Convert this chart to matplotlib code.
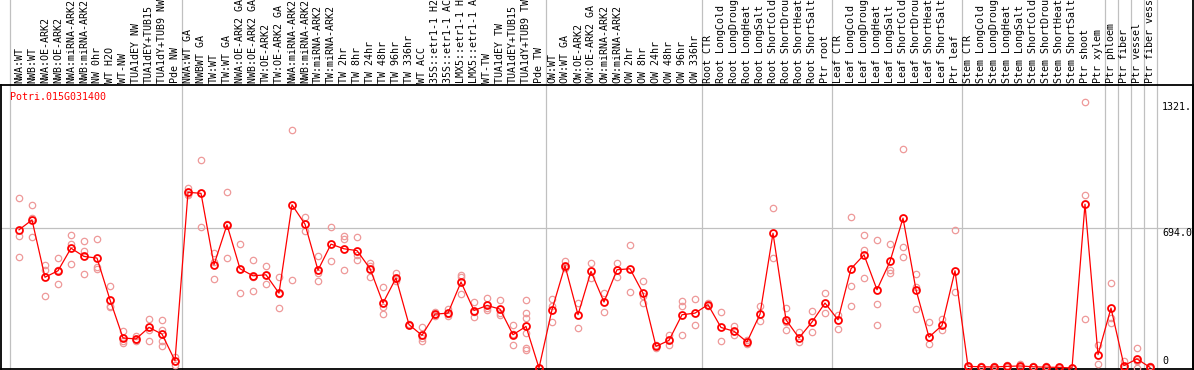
import numpy as np
import matplotlib
matplotlib.use('Agg')
import matplotlib.pyplot as plt
import matplotlib.transforms as mtransforms
from matplotlib.lines import Line2D

gene = 'Potri.015G031400'

labels = ['NWA:WT', 'NWB:WT', 'NWA:OE-ARK2', 'NWB:OE-ARK2', 'NWA:miRNA-ARK2', 'NWB:miRNA-ARK2',
          'NW 0hr', 'WT H2O', 'WT-NW', 'TUA1dEY NW', 'TUA1dEY+TUB15', 'TUA1dY+TUB9 NW', 'Pde NW',
          'NWA:WT GA', 'NWBWT GA', 'TW:WT', 'TW:WT GA', 'NWA:OE-ARK2 GA', 'NWB:OE-ARK2 GA',
          'TW:OE-ARK2', 'TW:OE-ARK2 GA', 'NWA:miRNA-ARK2', 'NWB:miRNA-ARK2', 'TW:miRNA-ARK2',
          'TW:miRNA-ARK2', 'TW 2hr', 'TW 8hr', 'TW 24hr', 'TW 48hr', 'TW 96hr', 'TW 336hr', 'WT ACC',
          '35S::etr1-1 H2', '35S::etr1-1 AC', 'LMX5::etr1-1 H', 'LMX5::etr1-1 A', 'WT-TW',
          'TUA1dEY TW', 'TUA1dEY+TUB15', 'TUA1dY+TUB9 TW', 'Pde TW',
          'OW:WT', 'OW:WT GA', 'OW:OE-ARK2', 'OW:OE-ARK2 GA', 'OW:miRNA-ARK2', 'OW:miRNA-ARK2',
          'OW 2hr', 'OW 8hr', 'OW 24hr', 'OW 48hr', 'OW 96hr', 'OW 336hr',
          'Root CTR', 'Root LongCold', 'Root LongDroug', 'Root LongHeat', 'Root LongSalt',
          'Root ShortCold', 'Root ShortDrou', 'Root ShortHeat', 'Root ShortSalt', 'Ptr root',
          'Leaf CTR', 'Leaf LongCold', 'Leaf LongDroug', 'Leaf LongHeat', 'Leaf LongSalt',
          'Leaf ShortCold', 'Leaf ShortDrou', 'Leaf ShortHeat', 'Leaf ShortSalt', 'Ptr leaf',
          'Stem CTR', 'Stem LongCold', 'Stem LongDroug', 'Stem LongHeat', 'Stem LongSalt',
          'Stem ShortCold', 'Stem ShortDrou', 'Stem ShortHeat', 'Stem ShortSalt', 'Ptr shoot',
          'Ptr xylem', 'Ptr phloem', 'Ptr fiber', 'Ptr vessel', 'Ptr fiber vessel']

means = [685, 734, 450, 482, 594, 553, 545, 338, 149, 144, 201, 168, 36,
         871, 866, 512, 710, 492, 457, 462, 371, 809, 713, 485, 614, 591, 582, 493, 322, 446,
         215, 162, 267, 272, 426, 285, 310, 292, 165, 206, 0,
         289, 507, 264, 479, 327, 487, 492, 371, 107, 137, 264, 272,
         314, 201, 182, 129, 267, 668, 239, 149, 228, 322,
         239, 492, 561, 388, 528, 743, 388, 153, 211, 482,
         8, 6, 5, 8, 10, 6, 4, 3, 0, 812, 66, 297, 12, 45, 3]

reps = [[842, 652, 549], [809, 746, 648], [512, 487, 358], [545, 485, 416], [660, 614, 515],
        [630, 578, 465], [640, 503, 492], [408, 305, 301], [182, 132, 124], [157, 140, 132],
        [244, 190, 135], [238, 190, 132, 107], [53, 36, 17],
        [894, 858, 861], [1031, 698, 869], [569, 526, 441], [871, 714, 545], [614, 491, 371],
        [536, 452, 383], [507, 463, 416], [449, 367, 297], [1180, 437], [751, 677],
        [553, 473, 429], [698, 531], [652, 640, 487], [648, 561, 536], [523, 506, 450],
        [403, 300, 267], [470, 439, 429], [220, 212, 213], [201, 149, 135], [280, 265, 256],
        [290, 270, 256], [462, 449, 368], [327, 277, 251], [347, 297, 286], [338, 274, 264],
        [211, 168, 116], [338, 272, 248, 173, 99, 91], [0, 0, 0],
        [343, 305, 228], [528, 498, 495], [322, 198], [520, 446], [371, 276], [520, 449],
        [611, 376], [432, 355, 322], [116, 99], [165, 116], [330, 305, 165], [343, 211],
        [322, 305], [280, 132], [206, 165], [140, 119], [309, 231], [792, 545],
        [297, 228, 190], [178, 129], [284, 178], [371, 272],
        [264, 193], [747, 408, 309], [660, 586, 446], [635, 318, 211], [614, 487, 470],
        [1084, 599, 549], [465, 404, 294], [228, 119], [244, 190], [685, 376],
        [12, 5, 8], [10, 3, 5], [8, 2, 5], [15, 4, 6], [18, 6, 8], [10, 3, 5], [8, 2, 3],
        [6, 1, 2], [0, 0], [1321, 858, 243], [116, 20], [421, 248, 223], [36, 0],
        [99, 0, 36], [12, 0]]

# group separators (after these indices)
group_ends = [12, 40, 52, 62, 72, 83, 84, 85, 86, 87]

W, H = 1194, 370
fig = plt.figure(figsize=(W / 100, H / 100), dpi=100)
top_px, bot_px = 85, 369
ax = fig.add_axes([0.5 / W, (H - bot_px) / H, 1192.5 / W, (bot_px - top_px) / H])

x = np.arange(len(labels))
mono = 'DejaVu Sans Mono'
fsize = 7.2
gray = '#c0c0c0'

for i, r in enumerate(reps):
    ax.plot([i] * len(r), r, linestyle='none', marker='o', markersize=4.6,
            markerfacecolor='none', markeredgecolor='#ee9999', markeredgewidth=0.9, zorder=3)
ax.plot(x, means, color='red', linewidth=0.9, zorder=4)
ax.plot(x, means, linestyle='none', marker='o', markersize=5,
        markerfacecolor='none', markeredgecolor='red', markeredgewidth=1.3, zorder=5)

ax.set_xlim((0.5 - 19) / 13, (1193 - 19) / 13)
ax.set_ylim(-5, 1403)
ax.set_xticks([])
ax.set_yticks([])
for s in ax.spines.values():
    s.set_linewidth(1.3)
    s.set_color('black')

ax.axhline(694, color=gray, linewidth=0.9, zorder=1)
ext = bot_px / (bot_px - top_px)
for p in [-0.7] + [g + 0.5 for g in group_ends]:
    ax.axvline(p, ymin=0, ymax=ext, color=gray, linewidth=0.9, clip_on=False, zorder=1)

# labels above the plot
trans = mtransforms.blended_transform_factory(ax.transData, ax.transAxes)
for i, lab in enumerate(labels):
    ax.text(i, 1 + 2.0 / (bot_px - top_px), lab, transform=trans, rotation=90,
            ha='center', va='bottom', fontsize=fsize, family=mono, clip_on=False)

# right side value labels
xr = (1162 - 0.5) / 1192.5
ax.text(xr, 1321, '1321.', transform=mtransforms.blended_transform_factory(ax.transAxes, ax.transData),
        ha='left', va='top', fontsize=fsize, family=mono)
ax.text(xr, 694, '694.0', transform=mtransforms.blended_transform_factory(ax.transAxes, ax.transData),
        ha='left', va='top', fontsize=fsize, family=mono)
ax.text(xr, 8, '0', transform=mtransforms.blended_transform_factory(ax.transAxes, ax.transData),
        ha='left', va='bottom', fontsize=fsize, family=mono)

ax.text(9.5 / 1192.5, 1 - 12.5 / (bot_px - top_px), gene, transform=ax.transAxes,
        ha='left', va='center', color='red', fontsize=fsize, family=mono)

fig.add_artist(Line2D([1192.5 / W, 1192.5 / W], [0, 1], color='black', linewidth=1.3))

fig.savefig('out.png', dpi=100)
